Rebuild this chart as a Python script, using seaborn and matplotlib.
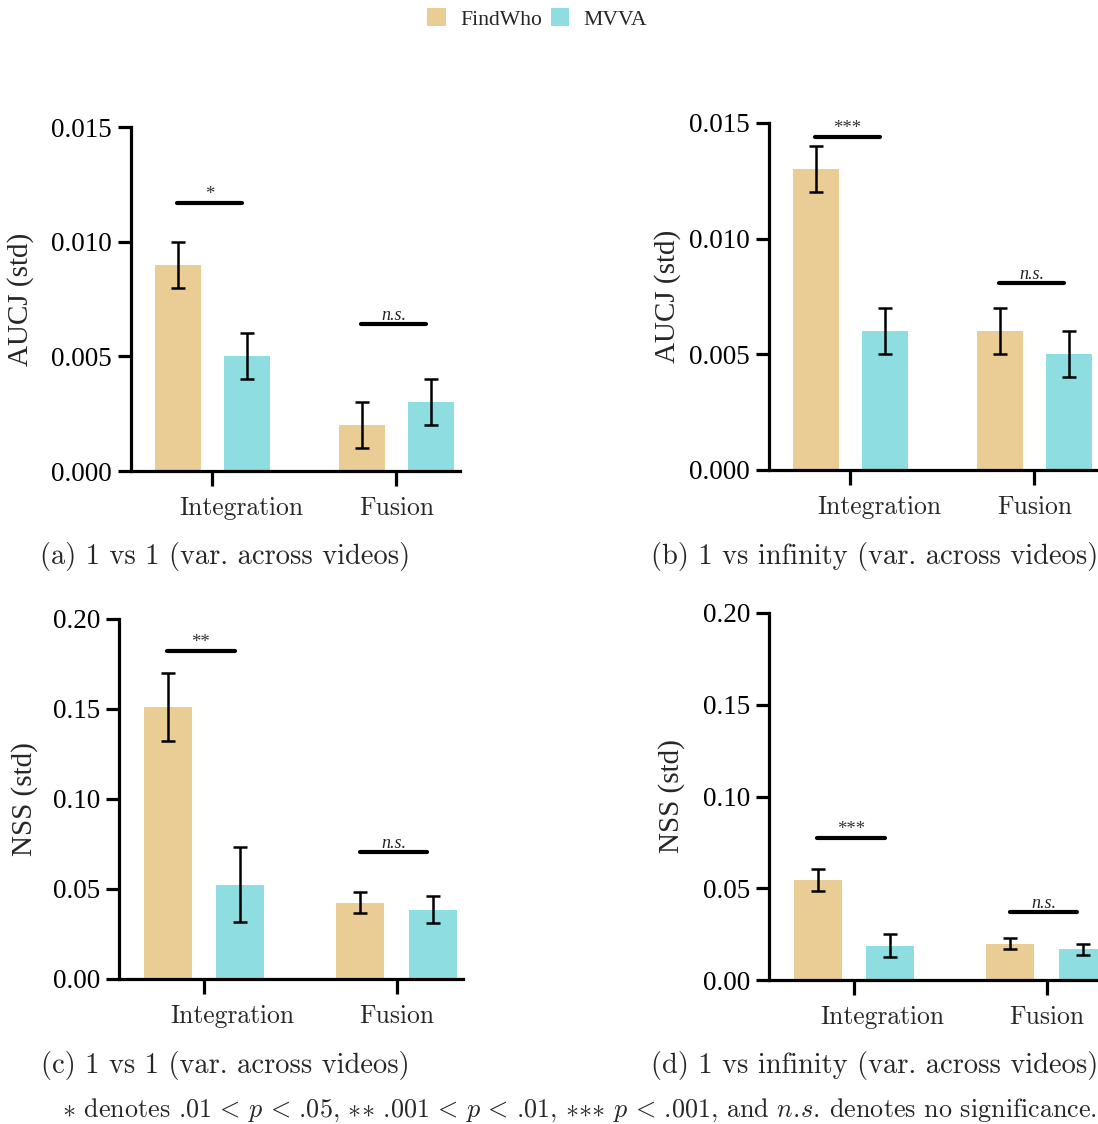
import numpy as np
import pandas as pd
import matplotlib
matplotlib.use("Agg")
import matplotlib.pyplot as plt
from matplotlib import font_manager, transforms
from matplotlib.patches import Patch
import seaborn as sns

# ---- data -------------------------------------------------------------
categories = ["Integration", "Fusion"]
models = ["FindWho", "MVVA"]
colors = ["#EACD95", "#8EDDE1"]

# (a) AUCJ, 1 vs 1
a_findwho = [0.009, 0.002]
a_findwho_err = [0.001, 0.001]
a_mvva = [0.005, 0.003]
a_mvva_err = [0.001, 0.001]
a_sig = ["*", "n.s."]
a_sig_y = [0.0117, 0.0064]

# (b) AUCJ, 1 vs infinity
b_findwho = [0.013, 0.006]
b_findwho_err = [0.001, 0.001]
b_mvva = [0.006, 0.005]
b_mvva_err = [0.001, 0.001]
b_sig = ["***", "n.s."]
b_sig_y = [0.0144, 0.0081]

# (c) NSS, 1 vs 1
c_findwho = [0.151, 0.0425]
c_findwho_err = [0.019, 0.006]
c_mvva = [0.0525, 0.0385]
c_mvva_err = [0.021, 0.0075]
c_sig = ["**", "n.s."]
c_sig_y = [0.1824, 0.0707]

# (d) NSS, 1 vs infinity
d_findwho = [0.0545, 0.0197]
d_findwho_err = [0.006, 0.003]
d_mvva = [0.0188, 0.0168]
d_mvva_err = [0.006, 0.003]
d_sig = ["***", "n.s."]
d_sig_y = [0.0776, 0.0373]

aucj_ticks = [0.000, 0.005, 0.010, 0.015]
nss_ticks = [0.00, 0.05, 0.10, 0.15, 0.20]

captions = ["(a) 1 vs 1 (var. across videos)",
            "(b) 1 vs infinity (var. across videos)",
            "(c) 1 vs 1 (var. across videos)",
            "(d) 1 vs infinity (var. across videos)"]

# ---- fonts ------------------------------------------------------------
serif_name = None
for path in font_manager.findSystemFonts():
    base = path.replace("\\", "/").split("/")[-1].lower()
    if base.startswith("liberationserif-"):
        font_manager.fontManager.addfont(path)
        if base.startswith("liberationserif-regular"):
            serif_name = font_manager.FontProperties(fname=path).get_name()
serif_families = ([serif_name] if serif_name else []) + ["STIXGeneral", "DejaVu Serif"]

# ---- style ------------------------------------------------------------
sns.set_theme(style="ticks")
plt.rcParams["font.family"] = serif_families
plt.rcParams["mathtext.fontset"] = "cm"
plt.rcParams["axes.linewidth"] = 2.3
plt.rcParams["axes.edgecolor"] = "black"

W, H = 1098, 1124
fig = plt.figure(figsize=(W / 100, H / 100), dpi=100)

XLIM = (-0.44, 1.345)


def px_axes(left, bottom, width, height):
    return fig.add_axes([left / W, 1 - bottom / H, width / W, height / H])


def panel(ax, findwho, findwho_err, mvva, mvva_err, sig, sig_y,
          ylabel, ticks, fmt, label_x):
    df = pd.DataFrame({
        "category": categories * 2,
        "model": [models[0]] * 2 + [models[1]] * 2,
        "value": list(findwho) + list(mvva),
    })
    sns.barplot(data=df, x="category", y="value", hue="model",
                order=categories, hue_order=models, palette=colors,
                width=0.75, gap=1 / 3, saturation=1, errorbar=None,
                legend=False, linewidth=0, ax=ax)
    for cont, errs in zip(ax.containers, [findwho_err, mvva_err]):
        for bar, e in zip(cont, errs):
            ax.errorbar(bar.get_x() + bar.get_width() / 2, bar.get_height(),
                        yerr=e, fmt="none", ecolor="black", elinewidth=1.8,
                        capsize=4.7, capthick=1.8, zorder=4)
    for i, (s, y) in enumerate(zip(sig, sig_y)):
        ax.plot([i - 0.19, i + 0.16], [y, y], color="black", lw=3,
                solid_capstyle="round", zorder=5, clip_on=False)
        if s == "n.s.":
            ax.text(i - 0.015, y, "n.s.", ha="center", va="bottom",
                    fontsize=13, style="italic", color="#222222")
        else:
            ax.text(i - 0.015, y, s, ha="center", va="bottom",
                    fontsize=13.5, color="#333333")
    ax.set_xlim(*XLIM)
    ax.set_ylim(ticks[0], ticks[-1])
    ax.set_yticks(ticks)
    ax.set_yticklabels([fmt % t for t in ticks])
    ax.set_xlabel("")
    ax.set_ylabel(ylabel, fontsize=21)
    ax.yaxis.set_label_coords(label_x / W, 0.5,
                              transform=transforms.blended_transform_factory(
                                  fig.transFigure, ax.transAxes))
    sns.despine(ax=ax)
    ax.tick_params(axis="y", length=9.5, width=2.3, labelsize=19.5, pad=4,
                   color="black", labelcolor="black")
    ax.tick_params(axis="x", length=11, width=2.3, pad=7, color="black")
    labels = ax.get_xticklabels()
    for lab in labels:
        lab.set_fontfamily("cmr10")
        lab.set_fontsize(18.4)
    # the first category name sits a little to the right of its tick
    shift = transforms.ScaledTranslation(29 / 100, 0, fig.dpi_scale_trans)
    labels[0].set_transform(labels[0].get_transform() + shift)
    ax.set_facecolor("white")


ax_a = px_axes(131, 471, 329, 344)
panel(ax_a, a_findwho, a_findwho_err, a_mvva, a_mvva_err, a_sig, a_sig_y,
      "AUCJ (std)", aucj_ticks, "%.3f", 34)

ax_b = px_axes(769, 470, 329, 347)
panel(ax_b, b_findwho, b_findwho_err, b_mvva, b_mvva_err, b_sig, b_sig_y,
      "AUCJ (std)", aucj_ticks, "%.3f", 681)

ax_c = px_axes(119, 979, 344, 360)
panel(ax_c, c_findwho, c_findwho_err, c_mvva, c_mvva_err, c_sig, c_sig_y,
      "NSS (std)", nss_ticks, "%.2f", 38)

ax_d = px_axes(769, 980, 344, 367)
panel(ax_d, d_findwho, d_findwho_err, d_mvva, d_mvva_err, d_sig, d_sig_y,
      "NSS (std)", nss_ticks, "%.2f", 685)

# captions under each panel
for (cx, cy), txt in zip([(225, 556), (875, 556), (225, 1066), (875, 1066)],
                         captions):
    fig.text(cx / W, 1 - cy / H, txt, ha="center", va="center",
             fontsize=20.5, fontfamily="cmr10")

fig.text(1097 / W, 1 - 1110 / H,
         r"$\ast$ denotes .01$\,<\,p\,<\,$.05, ${\ast}{\ast}$ .001$\,<\,p\,<\,$.01, "
         r"${\ast}{\ast}{\ast}$ $p\,<\,$.001, and $n.\!s.\!$ denotes no significance.",
         ha="right", va="center", fontsize=18.8, fontfamily="cmr10")

handles = [Patch(facecolor=c, edgecolor="none", label=m)
           for c, m in zip(colors, models)]
fig.legend(handles=handles, loc="center", bbox_to_anchor=(537 / W, 1 - 19 / H),
           ncol=2, frameon=False, fontsize=15.6, handlelength=0.875,
           handleheight=0.875, handletextpad=0.65, columnspacing=0.4)

fig.savefig("out.png", dpi=100, facecolor="white")
